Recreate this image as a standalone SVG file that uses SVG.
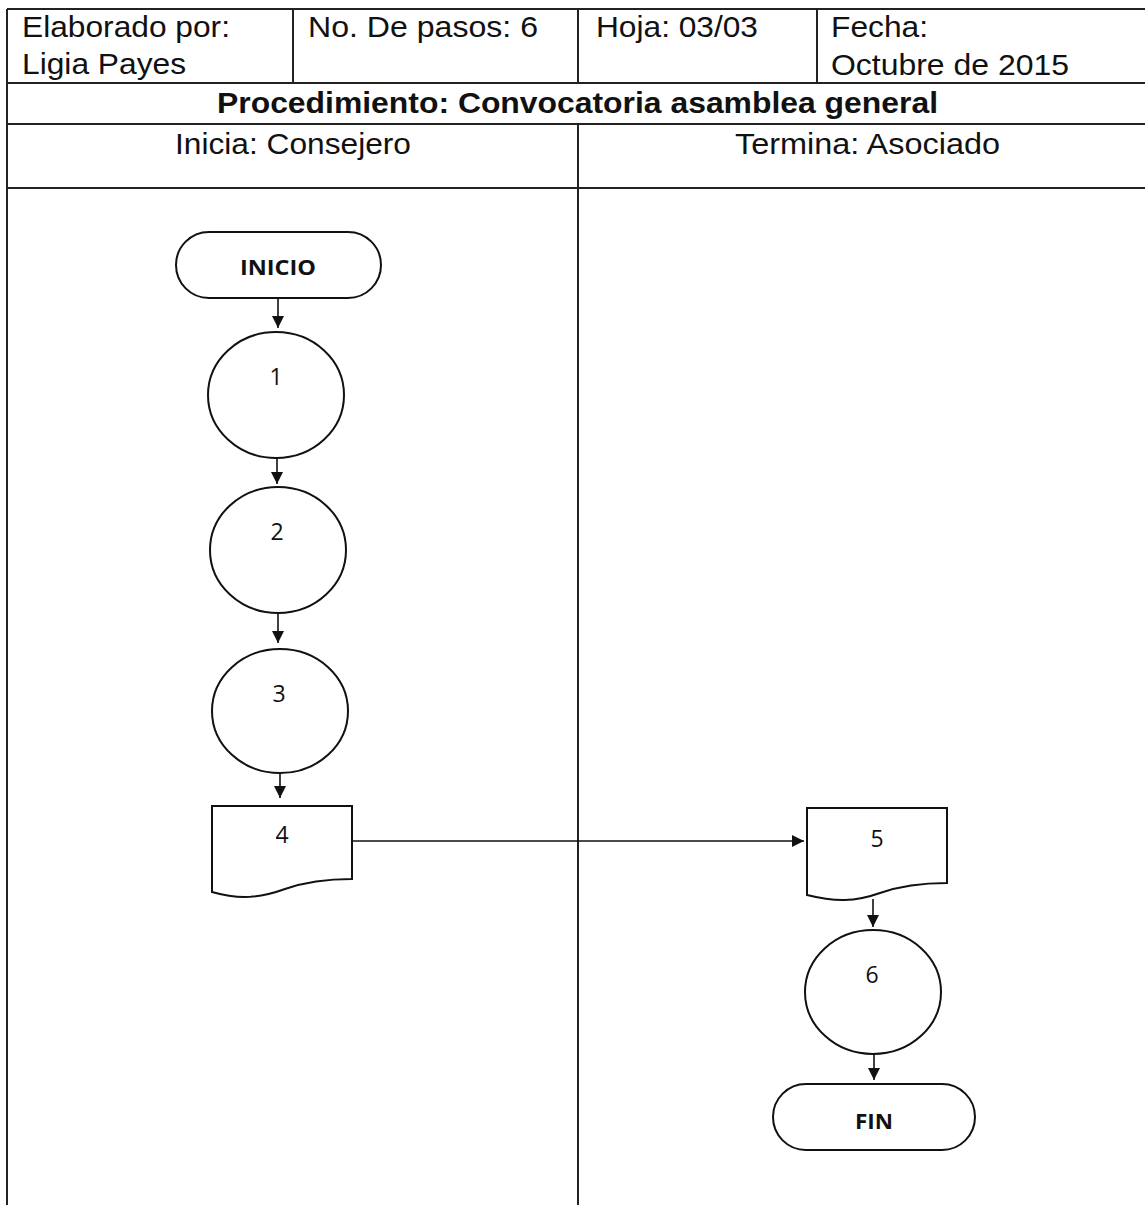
<svg xmlns="http://www.w3.org/2000/svg" width="1145" height="1205" viewBox="0 0 1145 1205">
<style>
.hdr{font-family:"Liberation Sans",Arial,sans-serif;font-size:30px;fill:#111}
.ttl{font-family:"Liberation Sans",Arial,sans-serif;font-size:29px;font-weight:bold;fill:#111}
.nd{font-family:"Open Sans","Noto Sans",sans-serif;font-size:23px;fill:#111;text-anchor:middle}
.ndb{font-family:"Open Sans","Noto Sans",sans-serif;font-size:22px;font-weight:bold;fill:#111;text-anchor:middle}
.tl{stroke:#222;stroke-width:2;fill:none}
.shp{stroke:#111;stroke-width:2;fill:#fff}
.cn{stroke:#111;stroke-width:1.6;fill:none;marker-end:url(#ah)}
</style>
<defs>
<marker id="ah" viewBox="0 0 12 12" refX="12" refY="6" markerWidth="14" markerHeight="12" markerUnits="userSpaceOnUse" orient="auto">
<path d="M0,0 L12,6 L0,12 z" fill="#111"/>
</marker>
</defs>
<rect width="1145" height="1205" fill="#fff"/>
<g id="table">
<line class="tl" x1="7" y1="9" x2="1145" y2="9"/>
<line class="tl" x1="7" y1="83" x2="1145" y2="83"/>
<line class="tl" x1="7" y1="124" x2="1145" y2="124"/>
<line class="tl" x1="7" y1="188" x2="1145" y2="188"/>
<line class="tl" x1="7" y1="9" x2="7" y2="1205"/>
<line class="tl" x1="293" y1="9" x2="293" y2="83"/>
<line class="tl" x1="578" y1="9" x2="578" y2="83"/>
<line class="tl" x1="817" y1="9" x2="817" y2="83"/>
<line class="tl" x1="578" y1="124" x2="578" y2="1205" stroke-width="1.6"/>
<text class="hdr" x="22" y="37" textLength="208" lengthAdjust="spacingAndGlyphs">Elaborado por:</text>
<text class="hdr" x="22" y="74" textLength="164" lengthAdjust="spacingAndGlyphs">Ligia Payes</text>
<text class="hdr" x="308" y="37" textLength="230" lengthAdjust="spacingAndGlyphs">No. De pasos: 6</text>
<text class="hdr" x="596" y="37" textLength="162" lengthAdjust="spacingAndGlyphs">Hoja: 03/03</text>
<text class="hdr" x="831" y="37" textLength="97" lengthAdjust="spacingAndGlyphs">Fecha:</text>
<text class="hdr" x="831" y="75" textLength="238" lengthAdjust="spacingAndGlyphs">Octubre de 2015</text>
<text class="ttl" x="217" y="113" textLength="721" lengthAdjust="spacingAndGlyphs">Procedimiento: Convocatoria asamblea general</text>
<text class="hdr" x="175" y="154" textLength="236" lengthAdjust="spacingAndGlyphs">Inicia: Consejero</text>
<text class="hdr" x="735" y="154" textLength="265" lengthAdjust="spacingAndGlyphs">Termina: Asociado</text>
</g>
<g id="connectors">
<line class="cn" x1="278" y1="299" x2="278" y2="328"/>
<line class="cn" x1="277" y1="458" x2="277" y2="484"/>
<line class="cn" x1="278" y1="613" x2="278" y2="643"/>
<line class="cn" x1="280" y1="773" x2="280" y2="798"/>
<line class="cn" x1="352" y1="841" x2="804" y2="841"/>
<line class="cn" x1="873" y1="899" x2="873" y2="927"/>
<line class="cn" x1="874" y1="1054" x2="874" y2="1080"/>
</g>
<g id="inicio">
<rect class="shp" x="176" y="232" width="205" height="66" rx="33" ry="33"/>
<text class="ndb" x="278" y="275" textLength="76" lengthAdjust="spacingAndGlyphs">INICIO</text>
</g>
<g id="step1">
<ellipse class="shp" cx="276" cy="395" rx="68" ry="63"/>
<text class="nd" x="276" y="385">1</text>
</g>
<g id="step2">
<ellipse class="shp" cx="278" cy="550" rx="68" ry="63"/>
<text class="nd" x="277" y="540">2</text>
</g>
<g id="step3">
<ellipse class="shp" cx="280" cy="711" rx="68" ry="62"/>
<text class="nd" x="279" y="702">3</text>
</g>
<g id="step4">
<path class="shp" d="M212,806 H352 V879 C330,879 305,882 285,889 C260,898 240,900 212,892 Z"/>
<text class="nd" x="282" y="843">4</text>
</g>
<g id="step5">
<path class="shp" d="M807,808 H947 V883 C925,883 900,886 880,893 C855,902 835,902 807,895 Z"/>
<text class="nd" x="877" y="847">5</text>
</g>
<g id="step6">
<ellipse class="shp" cx="873" cy="992" rx="68" ry="62"/>
<text class="nd" x="872" y="983">6</text>
</g>
<g id="fin">
<rect class="shp" x="773" y="1084" width="202" height="66" rx="33" ry="33"/>
<text class="ndb" x="874" y="1129" textLength="38" lengthAdjust="spacingAndGlyphs">FIN</text>
</g>
</svg>
